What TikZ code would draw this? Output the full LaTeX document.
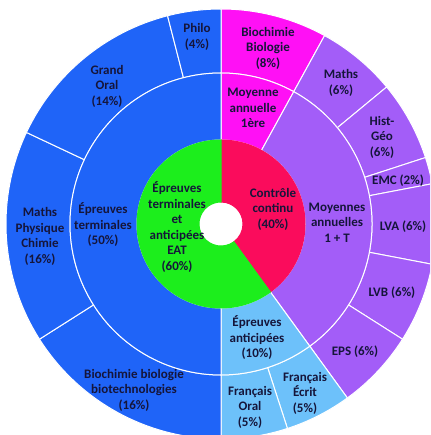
\documentclass[tikz,border=0pt]{standalone}
\usepackage{fontspec}
\setmainfont{Carlito}
\definecolor{cblue}{HTML}{1F64F8}
\definecolor{cmag}{HTML}{FF10F5}
\definecolor{cpurp}{HTML}{A35DF8}
\definecolor{clight}{HTML}{6DC1FA}
\definecolor{cgreen}{HTML}{1CEE1C}
\definecolor{cred}{HTML}{FA0C5C}
\definecolor{txt}{HTML}{15153A}
\newcommand\sbseg[6]{\filldraw[fill=#5, draw=#6, line width=1pt]
  ({90-3.6*#3}:#1) arc ({90-3.6*#3}:{90-3.6*#4}:#1) -- ({90-3.6*#4}:#2)
  arc ({90-3.6*#4}:{90-3.6*#3}:#2) -- cycle;}
\begin{document}
\begin{tikzpicture}[x=1pt,y=1pt,
  lbl/.style={font=\bfseries\fontsize{13}{15.5}\selectfont, text=txt, align=center, inner sep=0pt}]
\useasboundingbox (-221,-211) rectangle (209,224);
\fill[white] (-221,-211) rectangle (209,224);
\clip (-221,-211) rectangle (209,224);
% outer ring
\sbseg{151}{215}{0}{8}{cmag}{white}
\sbseg{151}{215}{8}{14}{cpurp}{white}
\sbseg{151}{215}{14}{20}{cpurp}{white}
\sbseg{151}{215}{20}{22}{cpurp}{white}
\sbseg{151}{215}{22}{28}{cpurp}{white}
\sbseg{151}{215}{28}{34}{cpurp}{white}
\sbseg{151}{215}{34}{40}{cpurp}{white}
\sbseg{151}{215}{40}{45}{clight}{white}
\sbseg{151}{215}{45}{50}{clight}{white}
\sbseg{151}{215}{50}{66}{cblue}{white}
\sbseg{151}{215}{66}{82}{cblue}{white}
\sbseg{151}{215}{82}{96}{cblue}{white}
\sbseg{151}{215}{96}{100}{cblue}{white}
% middle ring
\sbseg{84}{151}{0}{8}{cmag}{white}
\sbseg{84}{151}{8}{40}{cpurp}{white}
\sbseg{84}{151}{40}{50}{clight}{white}
\sbseg{84}{151}{50}{100}{cblue}{white}
% inner ring
\sbseg{22}{84}{0}{40}{cred}{cred}
\sbseg{22}{84}{40}{100}{cgreen}{cgreen}
% labels
\node[lbl] (philo) at (-24,187) {Philo\\(4\%)};
\node[lbl] (oral) at (-114,138) {Grand\\Oral\\(14\%)};
\node[lbl] (mpc) at (-181,-12.5) {Maths\\Physique\\Chimie\\(16\%)};
\node[lbl] (term) at (-118,-1) {Épreuves\\terminales\\(50\%)};
\node[lbl] (biotech) at (-87,-166) {Biochimie biologie\\biotechnologies\\(16\%)};
\node[lbl] (eat) at (-44,-3) {Épreuves\\terminales\\et\\anticipées\\EAT\\(60\%)};
\node[lbl] (cc) at (52,15) {Contrôle\\continu\\(40\%)};
\node[lbl] (biobio) at (47,176) {Biochimie\\Biologie\\(8\%)};
\node[lbl] (moy1) at (32,116) {Moyenne\\annuelle\\1ère};
\node[lbl] (maths) at (120,141) {Maths\\(6\%)};
\node[lbl] (hg) at (161,87) {Hist-\\Géo\\(6\%)};
\node[lbl] (emc) at (177,43) {EMC (2\%)};
\node[lbl] (moyT) at (116,1.5) {Moyennes\\annuelles\\1 + T};
\node[lbl] (lva) at (182,-3) {LVA (6\%)};
\node[lbl] (lvb) at (171,-69) {LVB (6\%)};
\node[lbl] (eps) at (134,-128) {EPS (6\%)};
\node[lbl] (antic) at (36,-114) {Épreuves\\anticipées\\(10\%)};
\node[lbl] (fe) at (84,-169) {Français\\Écrit\\(5\%)};
\node[lbl] (fo) at (29,-183) {Français\\Oral\\(5\%)};
\end{tikzpicture}
\end{document}
